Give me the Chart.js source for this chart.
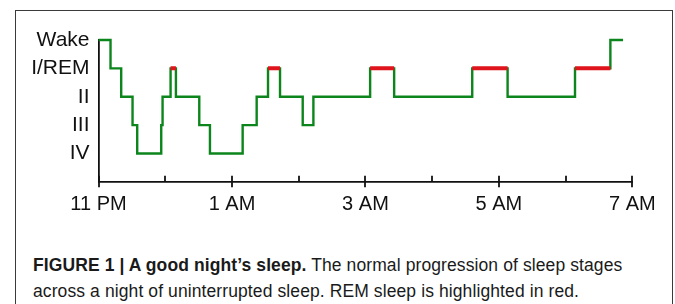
<!DOCTYPE html>
<html>
<head>
<meta charset="utf-8">
<script src="https://cdn.jsdelivr.net/npm/chart.js@4/dist/chart.umd.min.js"></script>
<style>
  html, body { margin: 0; padding: 0; background: #fff; }
  body { width: 675px; height: 304px; overflow: hidden; position: relative; }
  #frame {
    position: absolute; left: 15px; top: 10px; width: 656px; height: 320px;
    border: 1.5px solid #3a3a3a;
  }
  #chart0 { position: absolute; left: 0; top: 0; }
  #caption {
    position: absolute; left: 33px; top: 252px; width: 636px;
    font-family: "Liberation Sans", Arial, sans-serif; font-size: 17.5px;
    letter-spacing: 0.1px; white-space: nowrap;
    line-height: 26px; color: #1a1a1a;
  }
  #caption b { font-weight: bold; }
</style>
</head>
<body>
<div id="frame"></div>
<canvas id="chart0" width="675" height="230"></canvas>
<div id="caption"><b>FIGURE 1 | A good night’s sleep.</b> The normal progression of sleep stages<br>across a night of uninterrupted sleep. REM sleep is highlighted in red.</div>
<script>
// sleep stages, bottom to top
const stageLabels = ["IV", "III", "II", "I/REM", "Wake"];
// hour labels, one every 2 hours from 11 PM
const timeLabels = ["11 PM", "1 AM", "3 AM", "5 AM", "7 AM"];

// hypnogram: hours after 11 PM where a stage starts, and the stage (index into stageLabels)
const stageTimes = [0, 0.18, 0.34, 0.51, 0.58, 0.94, 0.96, 1.08, 1.16, 1.51, 1.67, 2.16, 2.37, 2.54, 2.72, 3.06, 3.22, 4.07, 4.43, 5.60, 6.13, 7.14, 7.67, 7.86];
const stageValues = [4, 3, 2, 1, 0, 1, 2, 3, 2, 1, 0, 1, 2, 3, 2, 1, 2, 3, 2, 3, 2, 3, 4, 4];

// REM periods (hours after 11 PM)
const remStart = [1.08, 2.54, 4.07, 5.60, 7.14];
const remEnd = [1.16, 2.72, 4.43, 6.13, 7.67];

const GREEN = "#0c861c";
const RED = "#e0141c";
const INK = "#111111";

function hypnoData() {
    return stageTimes.map((t, i) => ({ x: t, y: stageValues[i] }));
}

function remData() {
    const out = [];
    for (let i = 0; i < remStart.length; i++) {
        out.push({ x: remStart[i], y: 3 });
        out.push({ x: remEnd[i], y: 3 });
        out.push({ x: remEnd[i], y: null });
    }
    return out;
}

// hour tick marks: small ones inward, labelled ones crossing the axis
const hourTicks = {
    id: "hourTicks",
    afterDatasetsDraw(chart) {
        const ctx = chart.ctx;
        const xs = chart.scales.x;
        const y0 = chart.chartArea.bottom;
        ctx.save();
        ctx.strokeStyle = INK;
        ctx.lineWidth = 1.8;
        for (let h = 0; h <= 8; h++) {
            const px = Math.round(xs.getPixelForValue(h));
            ctx.beginPath();
            ctx.moveTo(px, y0 - 6);
            ctx.lineTo(px, h % 2 === 0 ? y0 + 5.5 : y0);
            ctx.stroke();
        }
        ctx.restore();
    }
};

const ctx = document.getElementById("chart0").getContext("2d");
window.chart = new Chart(ctx, {
    type: "line",
    data: {
        datasets: [
            {
                label: "REM",
                data: remData(),
                borderColor: RED,
                borderWidth: 4,
                pointRadius: 0,
                spanGaps: false,
                borderCapStyle: "butt",
                clip: false,
                order: 1,
            },
            {
                label: "stage",
                data: hypnoData(),
                borderColor: GREEN,
                borderWidth: 2.4,
                pointRadius: 0,
                stepped: "before",
                clip: false,
                order: 2,
            },
        ],
    },
    options: {
        responsive: false,
        animation: false,
        devicePixelRatio: 1,
        layout: { padding: { left: 0, right: 42.6, top: 40, bottom: 0 } },
        plugins: {
            legend: { display: false },
            tooltip: { enabled: false },
        },
        scales: {
            x: {
                type: "linear",
                min: 0,
                max: 8,
                grid: { display: false, drawTicks: false },
                border: { display: true, color: INK, width: 1.8 },
                ticks: {
                    stepSize: 1,
                    autoSkip: false,
                    maxRotation: 0,
                    padding: 11,
                    color: INK,
                    font: { family: "Liberation Sans", size: 20 },
                    callback: (v) => (v % 2 === 0 ? timeLabels[v / 2] : ""),
                },
                afterFit: (s) => { s.height = 48.2; },
            },
            y: {
                type: "linear",
                min: -1,
                max: 4,
                grid: { display: false, drawTicks: false },
                border: { display: true, color: INK, width: 1.8 },
                ticks: {
                    padding: 9,
                    color: INK,
                    font: { family: "Liberation Sans", size: 21 },
                    callback: (v) => stageLabels[v],
                },
                afterBuildTicks: (s) => {
                    s.ticks = stageLabels.map((_, i) => ({ value: i }));
                },
                afterFit: (s) => { s.width = 98.5; },
            },
        },
    },
    plugins: [hourTicks],
});
</script>
</body>
</html>
